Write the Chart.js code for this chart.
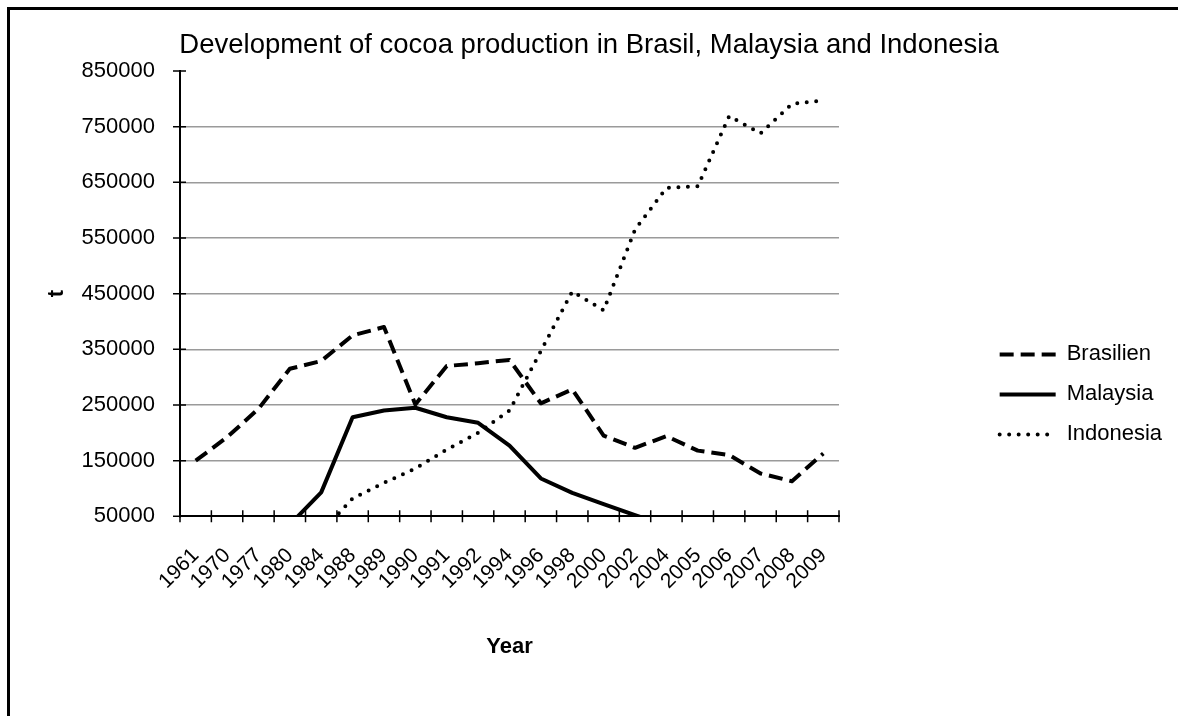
<!DOCTYPE html>
<html>
<head>
<meta charset="utf-8">
<title>Cocoa production</title>
<style>
  html, body { margin: 0; padding: 0; background: #fff; overflow: hidden; }
  #wrap { position: relative; width: 1178px; height: 716px; overflow: hidden; }
  #frame { position: absolute; left: 7px; top: 7px; width: 1400px; height: 1000px; border: 3px solid #000; pointer-events: none; }
</style>
<script src="https://cdn.jsdelivr.net/npm/chart.js"></script>
</head>
<body>
<div id="wrap">
  <canvas id="cocoaChart" width="1178" height="716"></canvas>
  <div id="frame"></div>
</div>
<script>
const years = ['1961', '1970', '1977', '1980', '1984', '1988', '1989', '1990', '1991', '1992', '1994',
  '1996', '1998', '2000', '2002', '2004', '2005', '2006', '2007', '2008', '2009'];

// tonnes (values under 50000 are cut off by the axis)
const brasilien = [150000, 192000, 243000, 315000, 329000, 375000, 390000, 251000, 320000, 325000, 331000,
  253000, 278000, 195000, 173000, 194000, 168000, 160000, 127000, 113000, 163000];
const malaysia = [3000, 5000, 25000, 35000, 93000, 228000, 240000, 245000, 228000, 218000, 177000,
  118000, 92000, 72000, 52000, 33000, 28000, 31000, 35000, 28000, 18000];
const indonesia = [1000, 2000, 8000, 12000, 22000, 82000, 110000, 136000, 170000, 200000, 240000,
  347000, 454000, 420000, 565000, 640000, 643000, 769000, 738000, 791000, 797000];

const yTicks = [50000, 150000, 250000, 350000, 450000, 550000, 650000, 750000, 850000];

Chart.defaults.font.family = '"Liberation Sans", Arial, sans-serif';
Chart.defaults.color = '#000';

// short tick marks that cross both axes, like the original
const crossTicks = {
  id: 'crossTicks',
  beforeDatasetsDraw(chart) {
    const { ctx, chartArea: a, scales: { x, y } } = chart;
    const step = x.getPixelForValue(1) - x.getPixelForValue(0);
    ctx.save();
    ctx.strokeStyle = '#000';
    ctx.lineWidth = 1.5;
    ctx.beginPath();
    for (let i = 0; i <= years.length; i++) {
      const px = x.getPixelForValue(0) - step / 2 + i * step;
      ctx.moveTo(px, a.bottom - 6);
      ctx.lineTo(px, a.bottom + 6);
    }
    y.ticks.forEach(t => {
      const py = y.getPixelForValue(t.value);
      ctx.moveTo(a.left - 7, py);
      ctx.lineTo(a.left + 6, py);
    });
    ctx.stroke();
    ctx.restore();
  }
};

const ctx = document.getElementById('cocoaChart').getContext('2d');

const cocoaChart = new Chart(ctx, {
  type: 'line',
  data: {
    labels: years,
    datasets: [{
      label: 'Brasilien',
      data: brasilien,
      borderColor: '#000',
      backgroundColor: '#000',
      borderWidth: 4,
      borderDash: [14, 7],
      borderCapStyle: 'butt',
      borderJoinStyle: 'round',
      pointRadius: 0,
      tension: 0
    }, {
      label: 'Malaysia',
      data: malaysia,
      borderColor: '#000',
      backgroundColor: '#000',
      borderWidth: 4,
      borderJoinStyle: 'round',
      pointRadius: 0,
      tension: 0
    }, {
      label: 'Indonesia',
      data: indonesia,
      borderColor: '#000',
      backgroundColor: '#000',
      borderWidth: 4,
      borderDash: [0, 9.5],
      borderCapStyle: 'round',
      borderJoinStyle: 'round',
      pointRadius: 0,
      tension: 0
    }]
  },
  options: {
    responsive: false,
    animation: false,
    layout: { padding: 0 },
    plugins: {
      title: {
        display: true,
        text: 'Development of cocoa production in Brasil, Malaysia and Indonesia',
        color: '#000',
        font: { size: 27.5, weight: 'normal' },
        padding: { top: 29, bottom: 9 }
      },
      legend: {
        position: 'right',
        align: 'start',
        title: { display: true, text: '', padding: { top: 311, bottom: 0 } },
        labels: {
          usePointStyle: true,
          pointStyle: 'line',
          pointStyleWidth: 56,
          padding: 18,
          color: '#000',
          font: { size: 22 },
          // keep the dash pattern of each line in its legend sample;
          // the trailing en space leaves the right margin of the original
          generateLabels: chart => Chart.defaults.plugins.legend.labels.generateLabels(chart).map(item => {
            const ds = chart.data.datasets[item.datasetIndex];
            item.lineDash = ds.borderDash || [];
            item.lineCap = ds.borderCapStyle || 'butt';
            item.lineWidth = ds.borderWidth;
            item.text = item.text + '\u2002';
            return item;
          })
        }
      },
      tooltip: { enabled: false }
    },
    scales: {
      x: {
        offset: true,
        grid: { offset: true, drawOnChartArea: false, drawTicks: false },
        border: { color: '#000', width: 2 },
        ticks: {
          autoSkip: false,
          maxRotation: 45,
          minRotation: 45,
          padding: 27,
          labelOffset: 0,
          color: '#000',
          font: { size: 21 }
        },
        title: {
          display: true,
          text: 'Year',
          color: '#000',
          font: { size: 22, weight: 'bold' },
          padding: { top: 0, bottom: 56 }
        },
        afterFit: s => { s.height = 199.7; }
      },
      y: {
        min: 50000,
        max: 850000,
        afterBuildTicks: s => { s.ticks = yTicks.map(v => ({ value: v })); },
        grid: {
          color: c => (c.tick && (c.tick.value === 850000 || c.tick.value === 50000)) ? 'rgba(0,0,0,0)' : '#9a9a9a',
          lineWidth: 1.5,
          drawTicks: false
        },
        border: { color: '#000', width: 2 },
        ticks: {
          padding: 25,
          color: '#000',
          font: { size: 22 },
          callback: v => String(v)
        },
        title: {
          display: true,
          text: 't',
          color: '#000',
          font: { size: 22, weight: 'bold' },
          padding: { top: 44, bottom: 0 }
        },
        afterFit: s => { s.width = 180; }
      },
      // empty spacer so the plot ends where the original does
      spacer: {
        type: 'linear',
        position: 'right',
        grid: { display: false },
        border: { display: false },
        ticks: { display: false },
        afterFit: s => { s.width = Math.max(0, s.chart.width - 839 - s.chart.legend.width); }
      }
    }
  },
  plugins: [crossTicks]
});
</script>
</body>
</html>
